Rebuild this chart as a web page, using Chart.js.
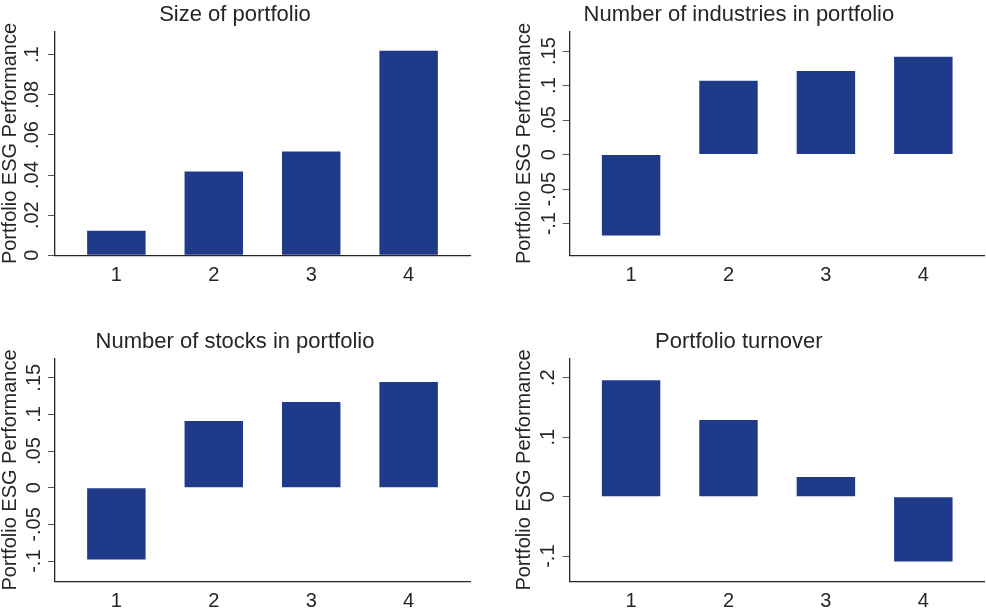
<!DOCTYPE html>
<html>
<head>
<meta charset="utf-8">
<title>Portfolio ESG Performance</title>
<script src="https://cdn.jsdelivr.net/npm/chart.js@4.4.0/dist/chart.umd.min.js"></script>
<style>
  body { margin: 0; background: #fff; }
  .grid { position: relative; width: 986px; height: 611px; background: #fff; }
  .grid canvas { position: absolute; }
</style>
</head>
<body>
<div class="grid">
  <canvas id="sizeChart" width="493" height="305" style="left:0;top:0"></canvas>
  <canvas id="industryChart" width="493" height="305" style="left:493px;top:0"></canvas>
  <canvas id="stockChart" width="493" height="291" style="left:0;top:320px"></canvas>
  <canvas id="turnoverChart" width="493" height="291" style="left:493px;top:320px"></canvas>
</div>
<script>
// quartile groups on the x axis
const groups = ['1', '2', '3', '4'];

// mean portfolio ESG performance per quartile
const sizeValues = [0.0122, 0.0418, 0.0517, 0.102];
const industryValues = [-0.117, 0.107, 0.121, 0.1416];
const stockValues = [-0.0977, 0.091, 0.117, 0.1442];
const turnoverValues = [0.1956, 0.129, 0.0331, -0.109];

// y tick values and axis ranges
const sizeTicks = [0, 0.02, 0.04, 0.06, 0.08, 0.1];
const industryTicks = [-0.1, -0.05, 0, 0.05, 0.1, 0.15];
const stockTicks = [-0.1, -0.05, 0, 0.05, 0.1, 0.15];
const turnoverTicks = [-0.1, 0, 0.1, 0.2];
const sizeRange = [0, 0.1115];
const industryRange = [-0.1458, 0.178];
const stockRange = [-0.128, 0.1765];
const turnoverRange = [-0.143, 0.2326];

const FONT = "'Liberation Sans', Arial, sans-serif";
const BAR = '#1f3a89';
const INK = '#262626';

// Stata style numbers: .05, -.1
function stataNum(v) {
  return String(v).replace(/^(-?)0\./, '$1.');
}

function makePanel(id, title, values, ticks, range, lay) {
  new Chart(document.getElementById(id), {
    type: 'bar',
    data: {
      datasets: [{
        data: values.map((v, i) => ({ x: i + 1, y: v })),
        backgroundColor: BAR,
        borderWidth: 0,
        barPercentage: 0.6,
        categoryPercentage: 1
      }]
    },
    options: {
      responsive: false,
      animation: false,
      layout: { padding: { left: 0, right: lay.padRight, top: 0, bottom: 0 } },
      plugins: {
        legend: { display: false },
        tooltip: { enabled: false },
        title: {
          display: true,
          text: title,
          color: INK,
          font: { family: FONT, size: 22, weight: 'normal' },
          padding: { top: lay.titleTop, bottom: lay.titleBottom }
        }
      },
      scales: {
        x: {
          type: 'linear',
          offset: false,
          min: 0.37,
          max: 4.63,
          afterBuildTicks: s => { s.ticks = groups.map((g, i) => ({ value: i + 1 })); },
          afterFit: s => { s.height = lay.xHeight; },
          grid: { display: false },
          border: { display: true, color: INK, width: 1.3 },
          ticks: {
            padding: 0,
            color: INK,
            font: { family: FONT, size: 20 },
            callback: v => groups[v - 1]
          }
        },
        y: {
          min: range[0],
          max: range[1],
          afterBuildTicks: s => { s.ticks = ticks.map(v => ({ value: v })); },
          afterFit: s => { s.width = lay.axisWidth; },
          grid: { drawOnChartArea: false, drawTicks: true, tickLength: 7, color: '#555', lineWidth: 1 },
          border: { display: true, color: INK, width: 1.3 },
          ticks: {
            autoSkip: false,
            minRotation: 90,
            maxRotation: 90,
            crossAlign: 'center',
            padding: lay.tickPad,
            color: INK,
            font: { family: FONT, size: 20 },
            callback: v => stataNum(v)
          },
          title: {
            display: true,
            text: 'Portfolio ESG Performance',
            color: INK,
            font: { family: FONT, size: 20 },
            padding: { top: lay.yTitlePad, bottom: 0 }
          }
        }
      }
    }
  });
}

makePanel('sizeChart', 'Size of portfolio', sizeValues, sizeTicks, sizeRange,
  { padRight: 23, titleTop: 1.8, titleBottom: 3.5, xHeight: 49.7, axisWidth: 55, tickPad: 1.8, yTitlePad: -2 });
makePanel('industryChart', 'Number of industries in portfolio', industryValues, industryTicks, industryRange,
  { padRight: 1.3, titleTop: 1.8, titleBottom: 3.5, xHeight: 49.7, axisWidth: 76.7, tickPad: -4.2, yTitlePad: 19 });
makePanel('stockChart', 'Number of stocks in portfolio', stockValues, stockTicks, stockRange,
  { padRight: 23, titleTop: 8.3, titleBottom: 3.6, xHeight: 29.3, axisWidth: 55, tickPad: -3.5, yTitlePad: -2 });
makePanel('turnoverChart', 'Portfolio turnover', turnoverValues, turnoverTicks, turnoverRange,
  { padRight: 1.3, titleTop: 8.3, titleBottom: 3.6, xHeight: 29.3, axisWidth: 76.7, tickPad: 3.0, yTitlePad: 19 });
</script>
</body>
</html>
